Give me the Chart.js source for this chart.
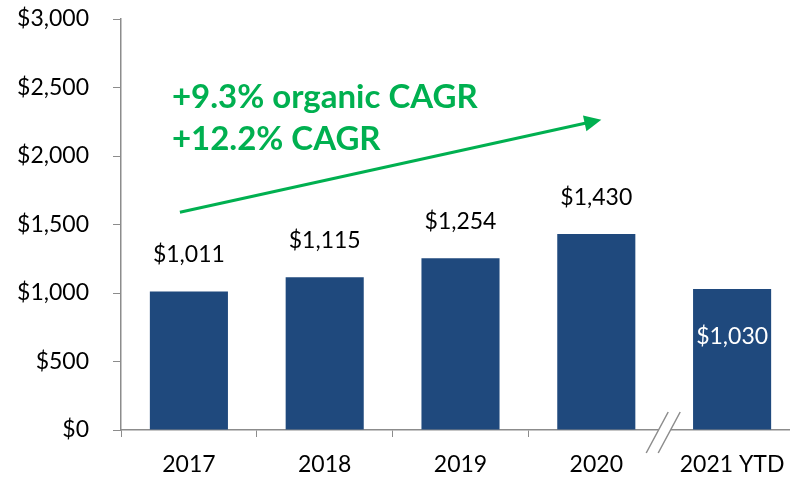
<!DOCTYPE html>
<html>
<head>
<meta charset="utf-8">
<script src="https://cdn.jsdelivr.net/npm/chart.js@4"></script>
<style>
  html, body { margin: 0; padding: 0; background: #fff; overflow: hidden; }
  #wrap { width: 800px; height: 479px; }
</style>
</head>
<body>
<div id="wrap"><canvas id="chartRevenue"></canvas></div>
<script>
const years = ['2017', '2018', '2019', '2020', '2021 YTD'];
const revenue = [1011, 1115, 1254, 1430, 1030];
const insideLabel = [false, false, false, false, true];
const cagrLines = ['+9.3% organic CAGR', '+12.2% CAGR'];

const FONT = 'Lato, "Open Sans", sans-serif';
const money = v => '$' + v.toLocaleString('en-US');

// value labels, arrow, CAGR text and axis break
const extras = {
  id: 'extras',
  afterDatasetsDraw(chart) {
    const ctx = chart.ctx;
    const x = chart.scales.x, y = chart.scales.y;
    const meta = chart.getDatasetMeta(0);

    ctx.save();
    ctx.font = '23px ' + FONT;
    ctx.textAlign = 'center';
    ctx.textBaseline = 'middle';
    meta.data.forEach((bar, i) => {
      if (insideLabel[i]) {
        ctx.fillStyle = '#ffffff';
        ctx.fillText(money(revenue[i]), bar.x, bar.y + 48);
      } else {
        ctx.fillStyle = '#000000';
        ctx.fillText(money(revenue[i]), bar.x, bar.y - 37);
      }
    });

    // growth arrow
    const x0 = x.getPixelForValue(0) - 9, y0 = y.getPixelForValue(1590);
    const x1 = x.getPixelForValue(3) + 5, y1 = y.getPixelForValue(2265);
    const ang = Math.atan2(y1 - y0, x1 - x0);
    ctx.strokeStyle = '#00B050';
    ctx.fillStyle = '#00B050';
    ctx.lineWidth = 3;
    ctx.beginPath();
    ctx.moveTo(x0, y0);
    ctx.lineTo(x1 - 12 * Math.cos(ang), y1 - 12 * Math.sin(ang));
    ctx.stroke();
    ctx.beginPath();
    ctx.moveTo(x1, y1);
    ctx.lineTo(x1 - 17 * Math.cos(ang) + 8 * Math.sin(ang), y1 - 17 * Math.sin(ang) - 8 * Math.cos(ang));
    ctx.lineTo(x1 - 17 * Math.cos(ang) - 8 * Math.sin(ang), y1 - 17 * Math.sin(ang) + 8 * Math.cos(ang));
    ctx.closePath();
    ctx.fill();

    ctx.font = 'bold 33px ' + FONT;
    ctx.textAlign = 'left';
    ctx.fillText(cagrLines[0], x.getPixelForValue(0) - 17, y.getPixelForValue(2428));
    ctx.fillText(cagrLines[1], x.getPixelForValue(0) - 17, y.getPixelForValue(2120));

    // axis break between 2020 and 2021 YTD
    const bx = (x.getPixelForValue(3) + x.getPixelForValue(4)) / 2;
    const by = y.bottom;
    ctx.fillStyle = '#ffffff';
    ctx.beginPath();
    ctx.moveTo(bx + 4, by - 18); ctx.lineTo(bx + 16, by - 18);
    ctx.lineTo(bx - 6, by + 23); ctx.lineTo(bx - 18, by + 23);
    ctx.closePath();
    ctx.fill();
    ctx.strokeStyle = '#8c8c8c';
    ctx.lineWidth = 1.5;
    ctx.beginPath();
    ctx.moveTo(bx + 4, by - 18); ctx.lineTo(bx - 18, by + 23);
    ctx.moveTo(bx + 16, by - 18); ctx.lineTo(bx - 6, by + 23);
    ctx.stroke();
    ctx.restore();
  }
};

new Chart(document.getElementById('chartRevenue'), {
  type: 'bar',
  data: {
    labels: years,
    datasets: [{
      data: revenue,
      backgroundColor: '#1F497D',
      barPercentage: 0.575,
      categoryPercentage: 1
    }]
  },
  options: {
    responsive: true,
    maintainAspectRatio: false,
    animation: false,
    layout: { padding: { top: 19, right: 0, bottom: 0, left: 0 } },
    plugins: { legend: { display: false }, tooltip: { enabled: false } },
    scales: {
      x: {
        grid: { drawOnChartArea: false, tickLength: 7, color: '#8c8c8c', offset: true },
        border: { color: '#8c8c8c', width: 1.5 },
        ticks: { color: '#000', font: { family: FONT, size: 23 }, padding: 14, maxRotation: 0 },
        afterFit(s) { s.height = 49; s.paddingLeft = 0; s.paddingRight = 0; }
      },
      y: {
        min: 0,
        max: 3000,
        ticks: { stepSize: 500, color: '#000', font: { family: FONT, size: 23 }, padding: 24,
                 callback: v => money(v) },
        grid: { drawOnChartArea: false, tickLength: 8, color: '#8c8c8c' },
        border: { color: '#8c8c8c', width: 1.5 },
        afterFit(s) { s.width = 121; s.paddingTop = 0; s.paddingBottom = 0; }
      }
    }
  },
  plugins: [extras]
});
</script>
</body>
</html>
